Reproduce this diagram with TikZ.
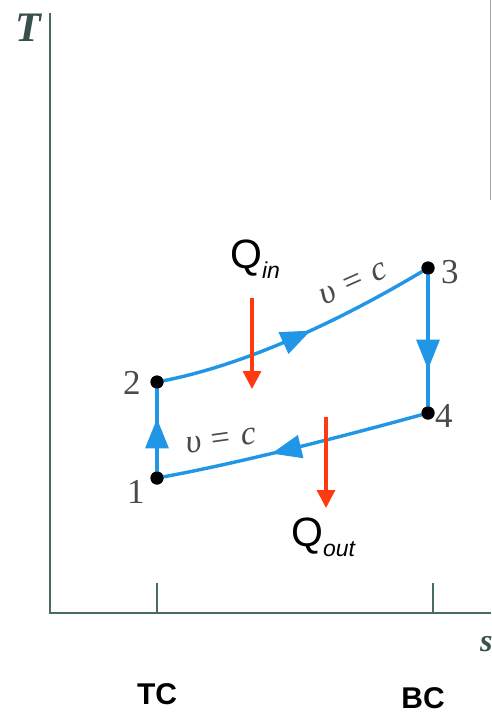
\documentclass[tikz,border=0pt]{standalone}
\usepackage{fontspec}
\setmainfont{Liberation Serif}
\newfontfamily\arial{Liberation Sans}
\usetikzlibrary{arrows.meta,decorations.markings}
\definecolor{axiscol}{HTML}{4A6A66}
\definecolor{cyclecol}{HTML}{2196E6}
\definecolor{heatcol}{HTML}{FF3A10}
\definecolor{numcol}{HTML}{4A4A4A}
\tikzset{
  axisline/.style={draw=axiscol, line width=2pt},
  cycleline/.style={draw=cyclecol, line width=3.4pt},
  midarrow/.style={postaction={decorate}, decoration={markings,
      mark=at position #1 with {\arrow[cyclecol]{Triangle[length=30pt,width=23pt]}}}},
  heatarrow/.style={draw=heatcol, line width=3.2pt, -{Triangle[length=18pt,width=18pt]}},
  dot/.style={circle, fill=black, inner sep=0pt, minimum size=13pt},
  numlabel/.style={anchor=base west, inner sep=0pt, text=numcol, font=\fontsize{35}{35}\selectfont},
  vclabel/.style={inner sep=0pt, text=numcol, font=\fontsize{34}{34}\selectfont},
  qlabel/.style={anchor=base west, inner sep=0pt, font=\arial\fontsize{41}{41}\selectfont},
  tclabel/.style={inner sep=0pt, font=\arial\bfseries\fontsize{30}{30}\selectfont},
}
\begin{document}
\begin{tikzpicture}[x=1pt,y=-1pt]
\useasboundingbox (0,0) rectangle (491,714);
\clip (0,0) rectangle (491,714);
\fill[white] (0,0) rectangle (491,714);
% axes
\coordinate (otop) at (50,13);
\coordinate (orig) at (50,613);
\coordinate (send) at (491,613);
\draw[axisline] (otop) -- (orig) -- (send);
\coordinate (t1a) at (157,583); \coordinate (t1b) at (157,613);
\coordinate (t2a) at (433,583); \coordinate (t2b) at (433,613);
\draw[axisline] (t1a) -- (t1b);
\draw[axisline] (t2a) -- (t2b);
\node[inner sep=0pt, text=axiscol!75!black, font=\bfseries\itshape\fontsize{42}{42}\selectfont] (Tlab) at (28,28) {T};
\node[inner sep=0pt, text=axiscol!75!black, font=\bfseries\itshape\fontsize{32}{32}\selectfont, anchor=west] (slab) at (480,644) {s};
% right-edge grey line
\coordinate (ga) at (490,0); \coordinate (gb) at (490,200);
\draw[gray!70, line width=1pt] (ga) -- (gb);
% state points
\node[dot] (p1) at (157,478) {};
\node[dot] (p2) at (157,382) {};
\node[dot] (p3) at (428,268) {};
\node[dot] (p4) at (428,413) {};
% cycle
\draw[cycleline, midarrow=0.62] (p1.center) -- (p2.center);
\draw[cycleline, midarrow=0.55] (p2.center) .. controls (250,365) and (350,315) .. (p3.center);
\draw[cycleline, midarrow=0.7] (p3.center) -- (p4.center);
\draw[cycleline, midarrow=0.58] (p4.center) .. controls (330,440) and (230,465) .. (p1.center);
\node[dot] at (p1) {};
\node[dot] at (p2) {};
\node[dot] at (p3) {};
\node[dot] at (p4) {};
% numbers
\node[numlabel] (n1) at (127,503) {1};
\node[numlabel] (n2) at (123,394) {2};
\node[numlabel] (n3) at (441,283) {3};
\node[numlabel] (n4) at (435,427) {4};
% v = c labels
\node[vclabel, rotate=24] (vc1) at (354,284) {\itshape υ = c};
\node[vclabel, rotate=8] (vc2) at (221,441) {\itshape υ = c};
% heat arrows
\coordinate (qia) at (252,298); \coordinate (qib) at (252,389);
\coordinate (qoa) at (326,417); \coordinate (qob) at (326,508);
\draw[heatarrow] (qia) -- (qib);
\draw[heatarrow] (qoa) -- (qob);
\node[qlabel] (qin) at (230,268) {Q\raisebox{-10pt}{\fontsize{23}{23}\selectfont\itshape in}};
\node[qlabel] (qout) at (291,546) {Q\raisebox{-10pt}{\fontsize{23}{23}\selectfont\itshape out}};
% TC / BC
\node[tclabel] (tc) at (157,694) {TC};
\node[tclabel] (bc) at (423,698) {BC};
\end{tikzpicture}
\end{document}
